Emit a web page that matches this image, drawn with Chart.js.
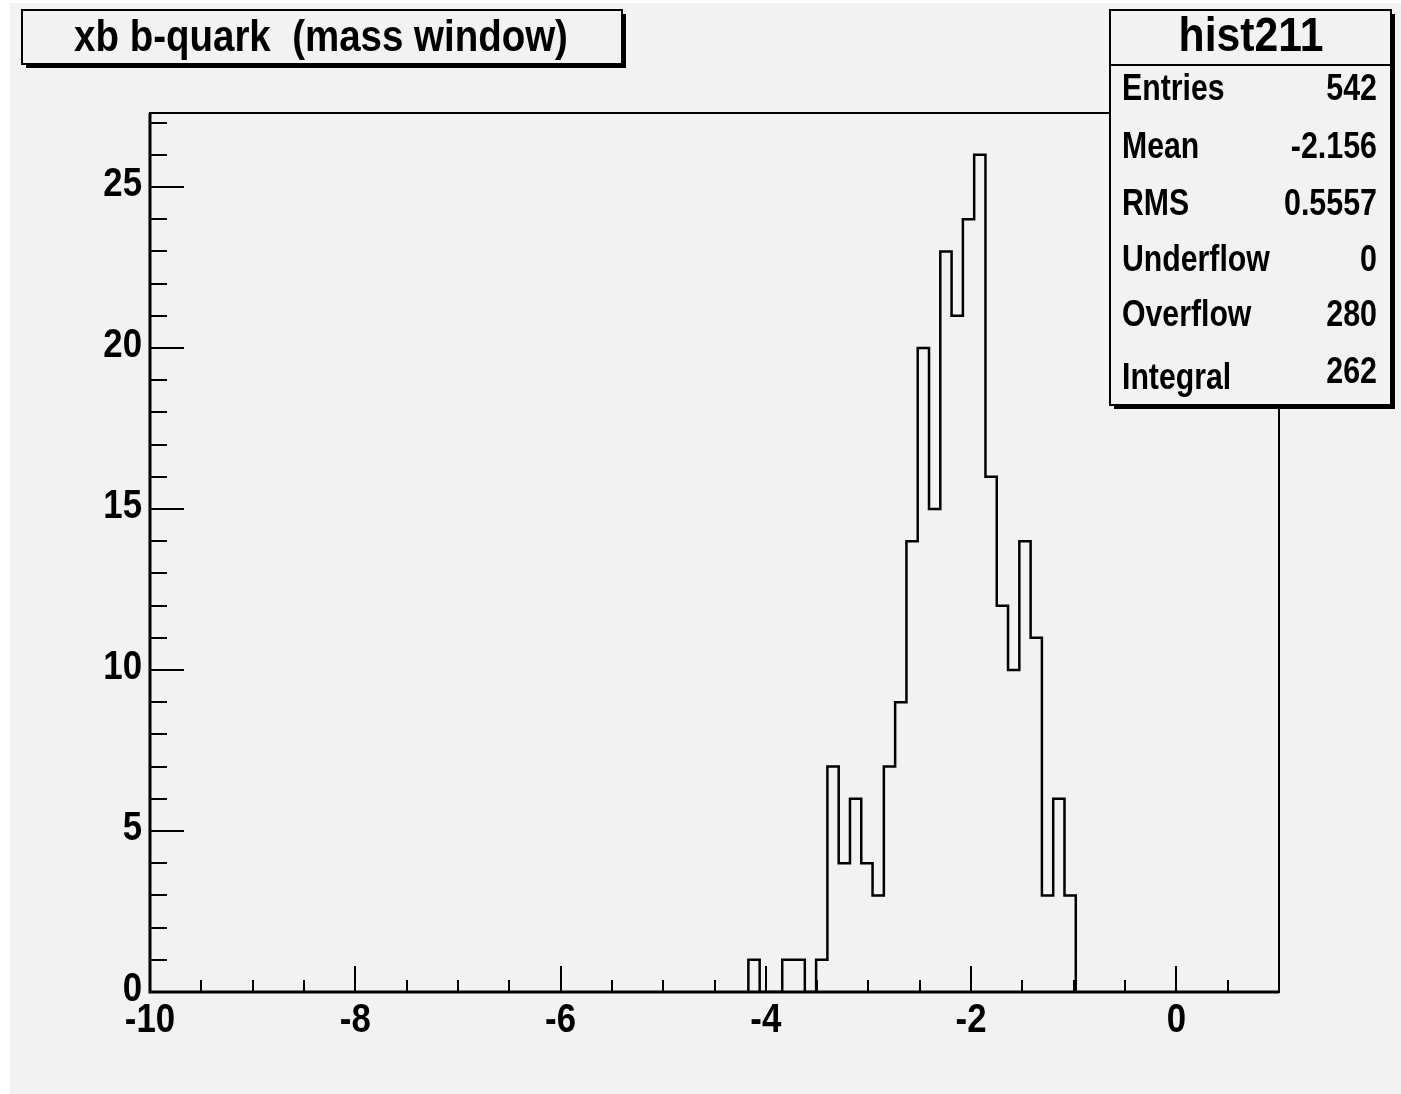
<!DOCTYPE html>
<html>
<head>
<meta charset="utf-8">
<script src="https://cdn.jsdelivr.net/npm/chart.js@4.4.1/dist/chart.umd.min.js"></script>
<style>
  html, body { margin: 0; padding: 0; background: #ffffff; }
  canvas { display: block; }
</style>
</head>
<body>
<canvas id="hist" width="1401" height="1094"></canvas>
<script>
// histogram binning: 100 bins from -10 to 1
const xMin = -10;
const xMax = 1;
const binWidth = 0.11;
const firstBin = 53; // first bin index listed in binCounts

// counts from bin 53 (-4.17) up to bin 81 (-1.09)
const binCounts = [1, 0, 0, 1, 1, 0, 1, 7, 4, 6, 4, 3, 7, 9, 14, 20, 15, 23, 21, 24, 26, 16, 12, 10, 14, 11, 3, 6, 3];

const xTickLabels = [-10, -8, -6, -4, -2, 0];
const yTickLabels = [0, 5, 10, 15, 20, 25];
const yMax = 27.3;

const titleText = "xb b-quark  (mass window)";
const statsTitle = "hist211";
const statsNames = ["Entries", "Mean", "RMS", "Underflow", "Overflow", "Integral"];
const statsValues = ["542", "-2.156", "0.5557", "0", "280", "262"];

const FONT = "'Liberation Sans', Arial, sans-serif";

// outline points of the histogram (corners of each bin)
const outline = [];
const startEdge = xMin + firstBin * binWidth;
outline.push({ x: startEdge, y: 0 });
binCounts.forEach((count, i) => {
  const lo = xMin + (firstBin + i) * binWidth;
  outline.push({ x: lo, y: count });
  outline.push({ x: lo + binWidth, y: count });
});
outline.push({ x: xMin + (firstBin + binCounts.length) * binWidth, y: 0 });

// ROOT uses a narrow helvetica, so squeeze the text horizontally
const drawText = (ctx, text, x, y, size, align, squeeze) => {
  ctx.save();
  ctx.translate(x, y);
  ctx.scale(squeeze, 1);
  ctx.font = "bold " + size + "px " + FONT;
  ctx.textAlign = align;
  ctx.textBaseline = "middle";
  ctx.fillStyle = "#000";
  ctx.fillText(text, 0, 0);
  ctx.restore();
};

// draws a ROOT style box with a drop shadow
const drawBox = (ctx, x1, y1, x2, y2) => {
  ctx.fillStyle = "#000";
  ctx.fillRect(x1 + 4, y1 + 4, x2 - x1, y2 - y1);
  ctx.fillStyle = "#f2f2f2";
  ctx.fillRect(x1, y1, x2 - x1, y2 - y1);
  ctx.strokeStyle = "#000";
  ctx.lineWidth = 2;
  ctx.strokeRect(x1, y1, x2 - x1, y2 - y1);
};

const rootPlugin = {
  id: "rootStyle",
  beforeDraw(chart) {
    const ctx = chart.ctx;
    ctx.save();
    ctx.fillStyle = "#f2f2f2";
    ctx.fillRect(10, 3, chart.width - 10, chart.height - 3);
    ctx.restore();
  },
  beforeDatasetsDraw(chart) {
    const { ctx, chartArea: a } = chart;
    ctx.save();
    ctx.strokeStyle = "#000";
    ctx.lineWidth = 2;
    ctx.strokeRect(a.left, a.top, a.right - a.left, a.bottom - a.top);
    ctx.restore();
  },
  afterDatasetsDraw(chart) {
    const { ctx, chartArea: a } = chart;
    const xs = chart.scales.x;
    const ys = chart.scales.y;
    ctx.save();
    ctx.strokeStyle = "#000";

    // axis lines
    ctx.lineWidth = 3;
    ctx.beginPath();
    ctx.moveTo(a.left, a.top);
    ctx.lineTo(a.left, a.bottom);
    ctx.lineTo(a.right, a.bottom);
    ctx.stroke();

    // x ticks (major every 2, minor every 0.5), pointing inward
    ctx.lineWidth = 2;
    ctx.beginPath();
    for (let k = 0; k <= 22; k++) {
      const v = xMin + k * 0.5;
      const px = Math.round(xs.getPixelForValue(v));
      const len = k % 4 === 0 ? 26 : 12;
      ctx.moveTo(px, a.bottom);
      ctx.lineTo(px, a.bottom - len);
    }
    // y ticks (major every 5, minor every 1)
    for (let v = 0; v <= 27; v++) {
      const py = Math.round(ys.getPixelForValue(v));
      const len = v % 5 === 0 ? 34 : 17;
      ctx.moveTo(a.left, py);
      ctx.lineTo(a.left + len, py);
    }
    ctx.stroke();
    ctx.restore();

    // tick labels
    xTickLabels.forEach(v => {
      drawText(ctx, String(v), xs.getPixelForValue(v), a.bottom + 29, 40, "center", 0.87);
    });
    yTickLabels.forEach(v => {
      drawText(ctx, String(v), a.left - 8, ys.getPixelForValue(v) - 2, 40, "right", 0.87);
    });
  },
  afterDraw(chart) {
    const ctx = chart.ctx;
    ctx.save();

    // title box
    drawBox(ctx, 22, 10, 622, 64);
    drawText(ctx, titleText, 321, 39, 45, "center", 0.855);

    // stats box
    drawBox(ctx, 1110, 10, 1391, 405);
    ctx.strokeStyle = "#000";
    ctx.lineWidth = 2;
    ctx.beginPath();
    ctx.moveTo(1110, 65);
    ctx.lineTo(1391, 65);
    ctx.stroke();
    ctx.restore();

    drawText(ctx, statsTitle, 1251, 38, 48, "center", 0.89);

    const rowY = [90, 148, 205, 261, 316, 379];
    const valY = [90, 148, 205, 261, 316, 373];
    statsNames.forEach((name, i) => {
      drawText(ctx, name, 1122, rowY[i], 36, "left", 0.84);
      drawText(ctx, statsValues[i], 1377, valY[i], 36, "right", 0.845);
    });
  }
};

Chart.defaults.font.family = FONT;
Chart.defaults.color = "#000";

new Chart(document.getElementById("hist"), {
  type: "line",
  data: {
    datasets: [{
      label: statsTitle,
      data: outline,
      borderColor: "#000",
      borderWidth: 2.5,
      pointRadius: 0,
      tension: 0,
      fill: false
    }]
  },
  options: {
    responsive: false,
    animation: false,
    devicePixelRatio: 1,
    layout: { padding: { top: 113, right: 122, left: 0, bottom: 0 } },
    plugins: {
      legend: { display: false },
      tooltip: { enabled: false }
    },
    scales: {
      x: {
        type: "linear",
        min: xMin,
        max: xMax,
        grid: { display: false, drawTicks: false },
        border: { display: false },
        ticks: { display: false },
        afterFit: (scale) => { scale.height = 102; }
      },
      y: {
        type: "linear",
        min: 0,
        max: yMax,
        grid: { display: false, drawTicks: false },
        border: { display: false },
        ticks: { display: false },
        afterFit: (scale) => { scale.width = 150; }
      }
    }
  },
  plugins: [rootPlugin]
});
</script>
</body>
</html>
